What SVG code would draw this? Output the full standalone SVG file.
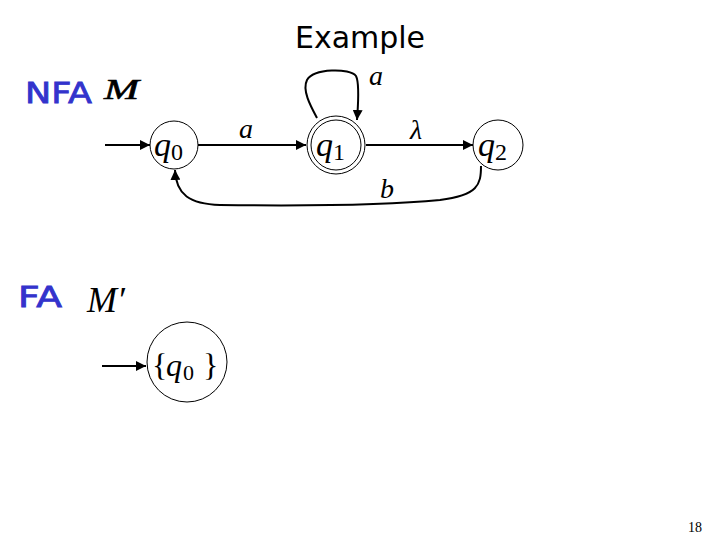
<svg xmlns="http://www.w3.org/2000/svg" width="720" height="540" viewBox="0 0 720 540">
<style>
.st{fill:#fff;stroke:#000;stroke-width:1}
.ed{fill:none;stroke:#000;stroke-width:2}
.m{font-family:"Liberation Serif",serif;font-style:italic;fill:#000}
.s{font-family:"Liberation Serif",serif;fill:#000}
.lbl{font-family:"DejaVu Sans",sans-serif;fill:#3333cc;stroke:#3333cc;stroke-width:0.8}
</style>
<defs>
<marker id="ah" viewBox="0 0 10 10" refX="10" refY="5" markerWidth="5" markerHeight="5" orient="auto" markerUnits="strokeWidth">
<path d="M0,0 L10,5 L0,10 z" fill="#000"/>
</marker>
</defs>
<rect width="720" height="540" fill="#fff"/>
<text x="360" y="48" text-anchor="middle" font-family="DejaVu Sans, sans-serif" font-size="30" fill="#000">Example</text>
<text x="25" y="103" class="lbl" font-size="29" textLength="67" lengthAdjust="spacingAndGlyphs">NFA</text>
<text x="104" y="99" class="m" font-size="30" stroke="#000" stroke-width="0.6" textLength="35" lengthAdjust="spacingAndGlyphs">M</text>
<text x="18" y="307" class="lbl" font-size="28" textLength="44" lengthAdjust="spacingAndGlyphs">FA</text>
<text x="87" y="312" class="m" font-size="36">M′</text>
<g id="connectors">
<line x1="105" y1="145" x2="150" y2="145" class="ed" marker-end="url(#ah)"/>
<line x1="198" y1="145" x2="306" y2="145" class="ed" marker-end="url(#ah)"/>
<line x1="366" y1="145" x2="473" y2="145" class="ed" marker-end="url(#ah)"/>
<path d="M317,118 C310,105 302,90 307,80 C314,68 350,68 356,76 C360,84 358,105 357,120" class="ed" marker-end="url(#ah)"/>
<path d="M481,166 C481,185 478,195 440,200 C380,206 300,206 220,205 C190,204 176,195 175,170" class="ed" marker-end="url(#ah)"/>
<line x1="102" y1="366" x2="146" y2="366" class="ed" marker-end="url(#ah)"/>
<text x="239" y="138" class="m" font-size="28">a</text>
<text x="410" y="139" class="m" font-size="28">λ</text>
<text x="369" y="85" class="m" font-size="28">a</text>
<text x="380" y="198" class="m" font-size="28">b</text>
</g>
<g id="q0">
<circle cx="174" cy="145" r="24" class="st"/>
<text x="154" y="156" class="m" font-size="34">q</text><text x="171" y="160" class="s" font-size="24">0</text>
</g>
<g id="q1">
<circle cx="336" cy="145" r="29" class="st"/>
<circle cx="336" cy="145" r="25" class="st"/>
<text x="316" y="156" class="m" font-size="34">q</text><text x="333" y="160" class="s" font-size="24">1</text>
</g>
<g id="q2">
<circle cx="498" cy="145" r="25" class="st"/>
<text x="478" y="156" class="m" font-size="34">q</text><text x="495" y="160" class="s" font-size="24">2</text>
</g>
<g id="s0">
<circle cx="187" cy="362" r="40" class="st"/>
<text x="152" y="376" class="s" font-size="32">{</text>
<text x="166" y="376" class="m" font-size="32">q</text><text x="183" y="380" class="s" font-size="22">0</text>
<text x="203" y="376" class="s" font-size="32">}</text>
</g>
<text x="688" y="532" class="s" font-size="14">18</text>
</svg>
